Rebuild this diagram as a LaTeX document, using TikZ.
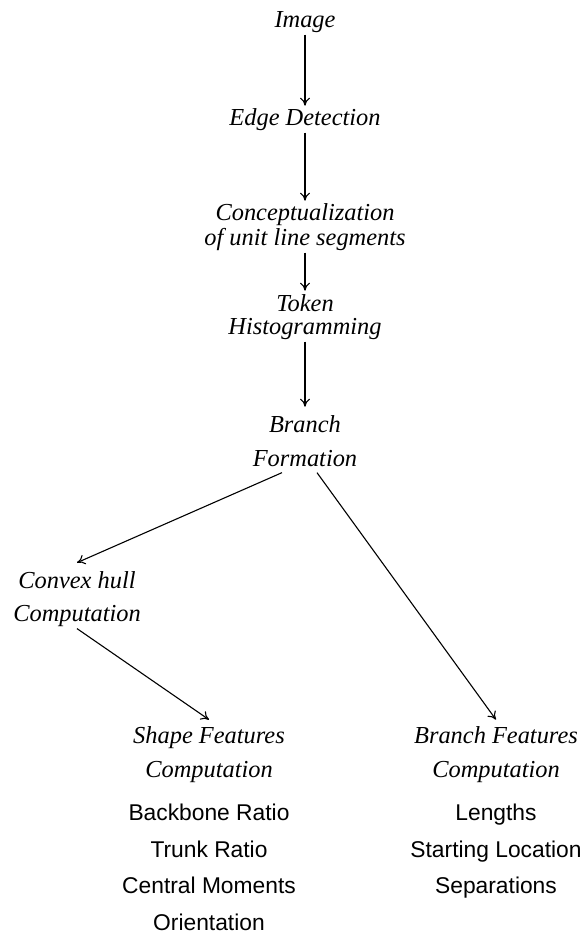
\documentclass[tikz,border=0pt]{standalone}
\usepackage{fontspec}
\setmainfont{Liberation Serif}
\setsansfont{Liberation Sans}
\usetikzlibrary{arrows.meta}

\tikzset{
  stage/.style={font=\fontsize{12.2}{14}\selectfont\itshape, inner xsep=0pt, inner ysep=1pt, anchor=base},
  feat/.style={font=\fontsize{11.4}{14}\selectfont\sffamily, inner sep=0pt, anchor=base},
  flow/.style={->, line width=0.55pt},
  >={To[length=4pt,width=5pt]}
}

\begin{document}
\begin{tikzpicture}[x=0.5pt, y=-0.5pt]
\useasboundingbox (0,0) rectangle (586,933);
% main chain
\node[stage] (img) at (305,27) {Image};
\node[stage] (edge) at (305,125) {Edge Detection};
\node[stage] (conc) at (305,220) {Conceptualization};
\node[stage] (unit) at (305,245) {of unit line segments};
\node[stage] (tok) at (305,311) {Token};
\node[stage] (hist) at (305,334) {Histogramming};
\node[stage] (brn) at (305,432) {Branch};
\node[stage] (form) at (305,466) {Formation};
% left branch
\node[stage] (hull) at (77,588) {Convex hull};
\node[stage] (hullc) at (77,621) {Computation};
\node[stage] (shape) at (209,743) {Shape Features};
\node[stage] (shapec) at (209,777) {Computation};
\node[feat] (bone) at (209,820) {Backbone Ratio};
\node[feat] (trunk) at (209,857) {Trunk Ratio};
\node[feat] (moment) at (209,893) {Central Moments};
\node[feat] (orient) at (209,930) {Orientation};
% right branch
\node[stage] (bfeat) at (496,743) {Branch Features};
\node[stage] (bfeatc) at (496,777) {Computation};
\node[feat] (len) at (496,820) {Lengths};
\node[feat] (start) at (496,857) {Starting Location};
\node[feat] (sep) at (496,893) {Separations};

\draw[flow] (img) -- (edge);
\draw[flow] (edge) -- (conc);
\draw[flow, shorten >=0.5pt] (unit) -- (tok);
\draw[flow, shorten >=3pt] (hist) -- (brn);
\draw[flow] ([xshift=-11.5pt,yshift=-2pt]form.south) -- ([yshift=3pt]hull.north);
\draw[flow] ([xshift=6pt,yshift=-2pt]form.south) -- ([yshift=2pt]bfeat.north);
\draw[flow] (hullc.south) -- ([yshift=2pt]shape.north);
\end{tikzpicture}
\end{document}
